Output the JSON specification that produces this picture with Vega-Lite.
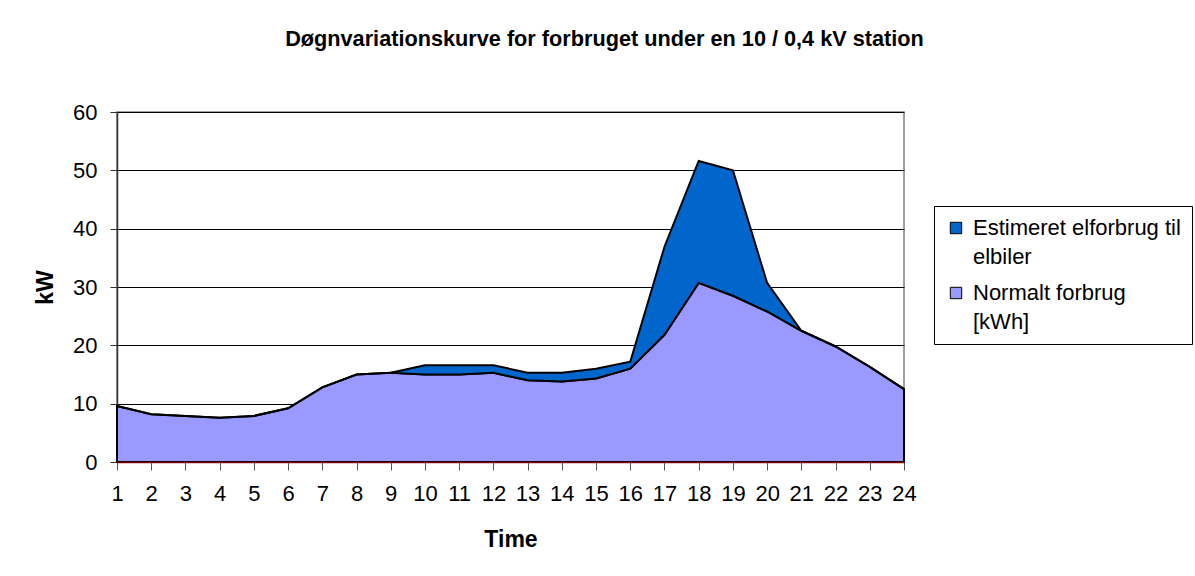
{
  "$schema": "https://vega.github.io/schema/vega-lite/v6.json",
  "width": 787,
  "height": 350,
  "autosize": {"type": "none"},
  "padding": {"left": 117, "top": 112, "right": 291, "bottom": 114},
  "background": "white",
  "config": {
    "font": "Liberation Sans",
    "view": {"stroke": "#808080", "strokeWidth": 1.5}
  },
  "title": {
    "text": "Døgnvariationskurve for forbruget under en 10 / 0,4 kV station",
    "font": "Liberation Sans",
    "fontSize": 21.7,
    "fontWeight": "bold",
    "color": "black",
    "anchor": "middle",
    "dx": 94,
    "offset": 50
  },
  "data": {
    "values": [
      {"time": 1, "serie": "Normalt forbrug [kWh]", "kw": 9.6},
      {"time": 2, "serie": "Normalt forbrug [kWh]", "kw": 8.2},
      {"time": 3, "serie": "Normalt forbrug [kWh]", "kw": 7.9},
      {"time": 4, "serie": "Normalt forbrug [kWh]", "kw": 7.6},
      {"time": 5, "serie": "Normalt forbrug [kWh]", "kw": 7.9},
      {"time": 6, "serie": "Normalt forbrug [kWh]", "kw": 9.2},
      {"time": 7, "serie": "Normalt forbrug [kWh]", "kw": 12.8},
      {"time": 8, "serie": "Normalt forbrug [kWh]", "kw": 15.0},
      {"time": 9, "serie": "Normalt forbrug [kWh]", "kw": 15.3},
      {"time": 10, "serie": "Normalt forbrug [kWh]", "kw": 15.0},
      {"time": 11, "serie": "Normalt forbrug [kWh]", "kw": 15.0},
      {"time": 12, "serie": "Normalt forbrug [kWh]", "kw": 15.3},
      {"time": 13, "serie": "Normalt forbrug [kWh]", "kw": 14.0},
      {"time": 14, "serie": "Normalt forbrug [kWh]", "kw": 13.8},
      {"time": 15, "serie": "Normalt forbrug [kWh]", "kw": 14.3},
      {"time": 16, "serie": "Normalt forbrug [kWh]", "kw": 16.0},
      {"time": 17, "serie": "Normalt forbrug [kWh]", "kw": 21.8},
      {"time": 18, "serie": "Normalt forbrug [kWh]", "kw": 30.7},
      {"time": 19, "serie": "Normalt forbrug [kWh]", "kw": 28.5},
      {"time": 20, "serie": "Normalt forbrug [kWh]", "kw": 25.8},
      {"time": 21, "serie": "Normalt forbrug [kWh]", "kw": 22.5},
      {"time": 22, "serie": "Normalt forbrug [kWh]", "kw": 19.8},
      {"time": 23, "serie": "Normalt forbrug [kWh]", "kw": 16.3},
      {"time": 24, "serie": "Normalt forbrug [kWh]", "kw": 12.5},
      {"time": 1, "serie": "Estimeret elforbrug til elbiler", "kw": 0},
      {"time": 2, "serie": "Estimeret elforbrug til elbiler", "kw": 0},
      {"time": 3, "serie": "Estimeret elforbrug til elbiler", "kw": 0},
      {"time": 4, "serie": "Estimeret elforbrug til elbiler", "kw": 0},
      {"time": 5, "serie": "Estimeret elforbrug til elbiler", "kw": 0},
      {"time": 6, "serie": "Estimeret elforbrug til elbiler", "kw": 0},
      {"time": 7, "serie": "Estimeret elforbrug til elbiler", "kw": 0},
      {"time": 8, "serie": "Estimeret elforbrug til elbiler", "kw": 0},
      {"time": 9, "serie": "Estimeret elforbrug til elbiler", "kw": 0},
      {"time": 10, "serie": "Estimeret elforbrug til elbiler", "kw": 1.6},
      {"time": 11, "serie": "Estimeret elforbrug til elbiler", "kw": 1.6},
      {"time": 12, "serie": "Estimeret elforbrug til elbiler", "kw": 1.3},
      {"time": 13, "serie": "Estimeret elforbrug til elbiler", "kw": 1.3},
      {"time": 14, "serie": "Estimeret elforbrug til elbiler", "kw": 1.5},
      {"time": 15, "serie": "Estimeret elforbrug til elbiler", "kw": 1.7},
      {"time": 16, "serie": "Estimeret elforbrug til elbiler", "kw": 1.2},
      {"time": 17, "serie": "Estimeret elforbrug til elbiler", "kw": 15.1},
      {"time": 18, "serie": "Estimeret elforbrug til elbiler", "kw": 20.9},
      {"time": 19, "serie": "Estimeret elforbrug til elbiler", "kw": 21.5},
      {"time": 20, "serie": "Estimeret elforbrug til elbiler", "kw": 4.9},
      {"time": 21, "serie": "Estimeret elforbrug til elbiler", "kw": 0},
      {"time": 22, "serie": "Estimeret elforbrug til elbiler", "kw": 0},
      {"time": 23, "serie": "Estimeret elforbrug til elbiler", "kw": 0},
      {"time": 24, "serie": "Estimeret elforbrug til elbiler", "kw": 0}
    ]
  },
  "mark": {"type": "area", "stroke": "black", "strokeWidth": 2, "strokeJoin": "miter", "opacity": 1, "fillOpacity": 1},
  "encoding": {
    "x": {
      "field": "time",
      "type": "quantitative",
      "scale": {"domain": [1, 24], "nice": false, "zero": false},
      "axis": {
        "title": "Time",
        "values": [1,2,3,4,5,6,7,8,9,10,11,12,13,14,15,16,17,18,19,20,21,22,23,24],
        "format": "d",
        "grid": false,
        "zindex": 1,
        "domainColor": "#800000",
        "domainWidth": 1.5,
        "tickColor": "#555555",
        "tickSize": 8,
        "labelFontSize": 22,
        "labelColor": "black",
        "labelPadding": 13,
        "labelFlush": false,
        "labelOverlap": false,
        "titleFontSize": 23,
        "titleFontWeight": "bold",
        "titleColor": "black",
        "titlePadding": 24
      }
    },
    "y": {
      "field": "kw",
      "type": "quantitative",
      "stack": "zero",
      "scale": {"domain": [0, 60], "nice": false},
      "axis": {
        "title": "kW",
        "values": [0, 10, 20, 30, 40, 50, 60],
        "grid": true,
        "gridColor": "black",
        "gridWidth": 1,
        "domainColor": "#333333",
        "domainWidth": 1.5,
        "tickColor": "#333333",
        "tickSize": 7,
        "labelFontSize": 22,
        "labelColor": "black",
        "labelPadding": 13,
        "titleFontSize": 23,
        "titleFontWeight": "bold",
        "titleColor": "black",
        "titlePadding": 15
      }
    },
    "color": {
      "field": "serie",
      "type": "nominal",
      "scale": {
        "domain": ["Estimeret elforbrug til elbiler", "Normalt forbrug [kWh]"],
        "range": ["#0066CC", "#9999FF"]
      },
      "legend": {
        "title": null,
        "orient": "none",
        "legendX": 817,
        "legendY": 94,
        "strokeColor": "black",
        "fillColor": "white",
        "padding": 11,
        "symbolType": "square",
        "symbolSize": 130,
        "symbolStrokeColor": "black",
        "symbolStrokeWidth": 1,
        "symbolOpacity": 1,
        "labelFontSize": 22,
        "labelOffset": 6,
        "labelColor": "black",
        "labelLimit": 300,
        "rowPadding": 14,
        "labelExpr": "datum.label == 'Estimeret elforbrug til elbiler' ? ['Estimeret elforbrug til', 'elbiler'] : ['Normalt forbrug', '[kWh]']",
        "encode": {"labels": {"update": {"lineHeight": {"value": 29}}}}
      }
    },
    "order": {"field": "serie", "sort": "descending"}
  }
}
